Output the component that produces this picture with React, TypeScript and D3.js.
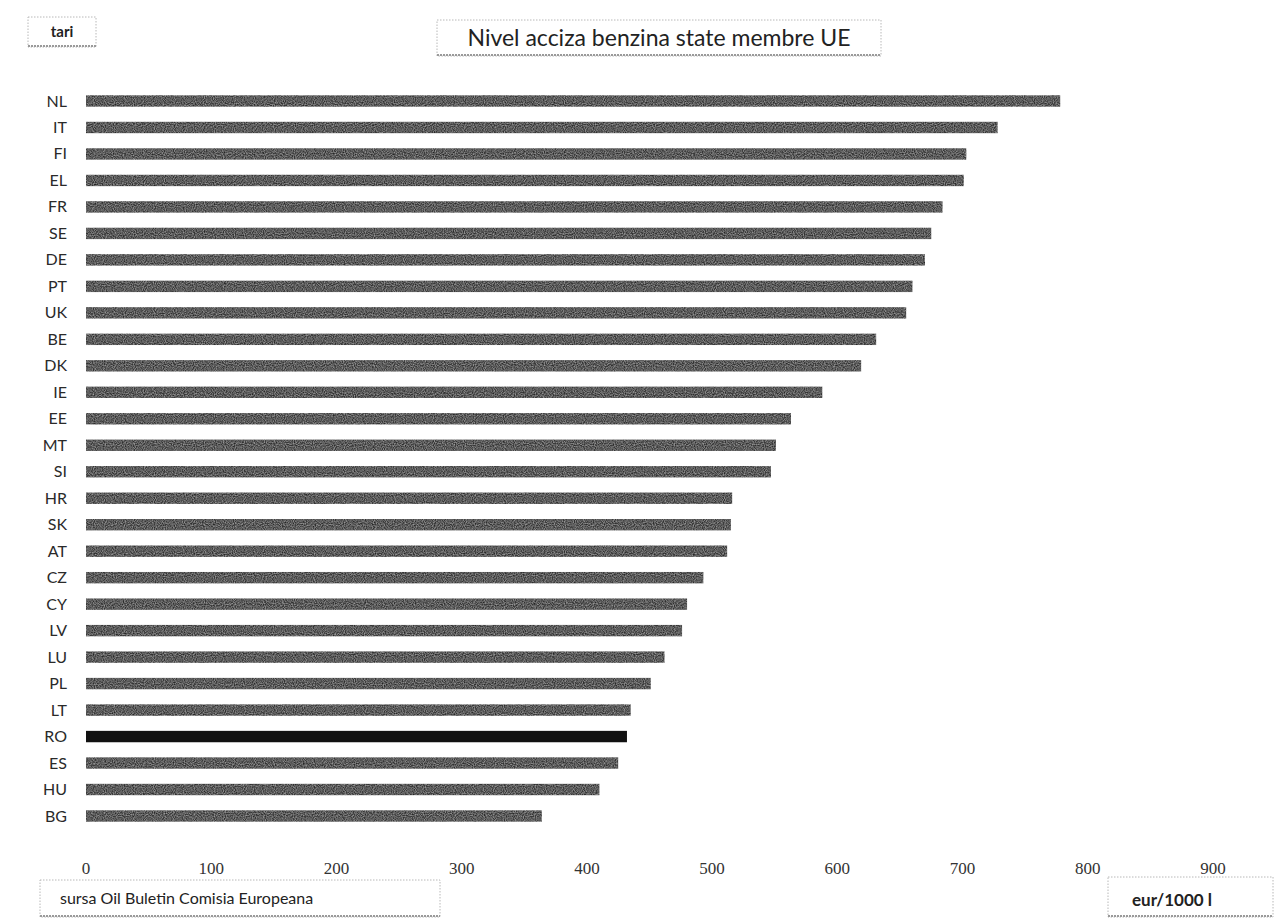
import React from "react";
import * as d3 from "d3";

const countries = ["NL","IT","FI","EL","FR","SE","DE","PT","UK","BE","DK","IE","EE","MT","SI","HR","SK","AT","CZ","CY","LV","LU","PL","LT","RO","ES","HU","BG"];
const values = [778,728,703,701,684,675,670,660,655,631,619,588,563,551,547,516,515,512,493,480,476,462,451,435,432,425,410,364];
const highlight = "RO";
const ticks = [0,100,200,300,400,500,600,700,800,900];
const title = "Nivel acciza benzina state membre UE";
const yTitle = "tari";
const source = "sursa Oil Buletin Comisia Europeana";
const unit = "eur/1000 l";

const W = 1279, H = 918;

export default function App() {
  const x = d3.scaleLinear().domain([0, 900]).range([86, 1213]);
  const y = d3.scalePoint<string>().domain(countries).range([101, 816]);
  const bh = y.step() * 0.43;
  const sans = "Lato, 'Open Sans', sans-serif";
  const serif = "'Liberation Serif', 'DejaVu Serif', serif";

  const Box = ({ x0, y0, w, h }: { x0: number; y0: number; w: number; h: number }) => (
    <g>
      <rect x={x0} y={y0} width={w} height={h} fill="none" stroke="#b8b8b8" strokeWidth={1} strokeDasharray="1.5,1.5" />
      <line x1={x0} x2={x0 + w} y1={y0 + h - 1} y2={y0 + h - 1} stroke="#9a9a9a" strokeWidth={2} strokeDasharray="2,1" />
    </g>
  );

  return (
    <svg width={W} height={H} style={{ position: "absolute", left: 0, top: 0, background: "#fff" }}>
      <defs>
        <filter id="grain" x="0" y="0" width="100%" height="100%">
          <feTurbulence type="fractalNoise" baseFrequency="0.9" numOctaves={1} seed={3} result="n" />
          <feColorMatrix in="n" type="matrix" values="0 0 0 0 0  0 0 0 0 0  0 0 0 0 0  0 0 0 -0.9 1.2" result="a" />
          <feComposite in="SourceGraphic" in2="a" operator="in" />
        </filter>
      </defs>

      {/* title boxes */}
      <Box x0={28} y0={17} w={68} h={30} />
      <text x={62} y={37} textAnchor="middle" fontFamily={sans} fontSize={15} fontWeight={700} fill="#222">{yTitle}</text>

      <Box x0={437} y0={20} w={444} h={36} />
      <text x={659} y={46} textAnchor="middle" fontFamily={sans} fontSize={23} fill="#222">{title}</text>

      {/* bars */}
      {countries.map((c, i) => (
        <rect key={c}
          x={x(0)} y={(y(c) as number) - bh / 2}
          width={x(values[i]) - x(0)} height={bh}
          fill={c === highlight ? "#111" : "#262626"}
          filter={c === highlight ? undefined : "url(#grain)"} />
      ))}

      {/* category labels */}
      {countries.map((c) => (
        <text key={c} x={67} y={(y(c) as number) + 5.5} textAnchor="end" fontFamily={sans} fontSize={16} fill="#2a2a2a">{c}</text>
      ))}

      {/* x tick labels */}
      {ticks.map((t) => (
        <text key={t} x={x(t)} y={874} textAnchor="middle" fontFamily={serif} fontSize={17} fill="#333">{t}</text>
      ))}

      {/* bottom boxes */}
      <Box x0={40} y0={880} w={400} h={37} />
      <text x={60} y={904} fontFamily={sans} fontSize={16} fill="#222">{source}</text>

      <Box x0={1108} y0={877} w={165} h={40} />
      <text x={1172} y={906} textAnchor="middle" fontFamily={sans} fontSize={17} fontWeight={700} fill="#222">{unit}</text>
    </svg>
  );
}
